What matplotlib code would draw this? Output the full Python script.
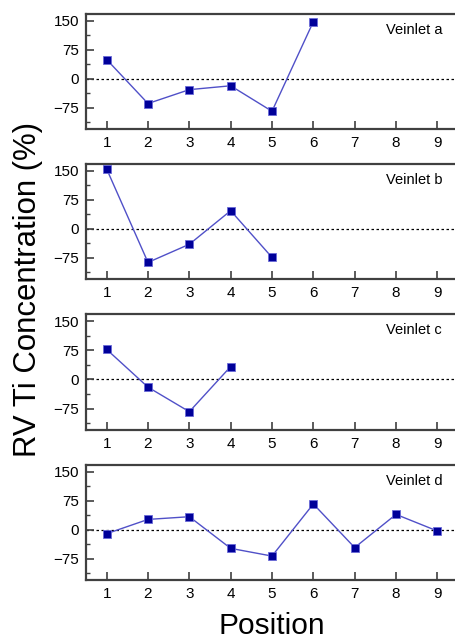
import numpy as np
import matplotlib
matplotlib.use('Agg')
from matplotlib import pyplot as plt
from matplotlib.ticker import MultipleLocator

plt.rcParams['font.family'] = ['Liberation Sans', 'DejaVu Sans']

# Dati
veinlets = ['Veinlet a', 'Veinlet b', 'Veinlet c', 'Veinlet d']
pos_a = [1, 2, 3, 4, 5, 6]
rv_a = [50, -64, -28, -18, -84, 148]
pos_b = [1, 2, 3, 4, 5]
rv_b = [155, -87, -40, 47, -74]
pos_c = [1, 2, 3, 4]
rv_c = [77, -20, -83, 33]
pos_d = [1, 2, 3, 4, 5, 6, 7, 8, 9]
rv_d = [-10, 27, 34, -48, -68, 67, -46, 40, -3]

positions = [pos_a, pos_b, pos_c, pos_d]
values = [rv_a, rv_b, rv_c, rv_d]
xticks = list(range(1, 10))
yticks = [-75, 0, 75, 150]

fig = plt.figure(figsize=(4.55, 6.42), dpi=100)

# posizioni dei pannelli in pixel (top, bottom)
panels = [(14, 129), (164, 279), (314, 430), (465, 580)]
left_px, right_px = 86, 458
W, H = 455, 642

for (top, bot), name, x, y in zip(panels, veinlets, positions, values):
    ax = fig.add_axes([left_px / W, 1 - bot / H, (right_px - left_px) / W, (bot - top) / H])
    ax.axhline(0, color='black', lw=0.9, ls=(0, (2, 2)), zorder=1)
    ax.plot(x, y, color='#5050c8', lw=1.0, marker='s', markersize=6,
            markerfacecolor='#000099', markeredgecolor='#6a6ad8', markeredgewidth=0.6, zorder=3)
    ax.set_xlim(0.5, 9.5)
    ax.set_ylim(-130, 168)
    ax.set_xticks(xticks)
    ax.set_yticks(yticks)
    ax.yaxis.set_minor_locator(MultipleLocator(37.5))
    ax.tick_params(which='major', direction='in', length=6, width=1.2, color='#404040',
                   labelsize=11, pad=5)
    ax.tick_params(which='minor', direction='in', length=3, width=1.0, color='#404040')
    ax.tick_params(axis='y', which='minor', left=True)
    for s in ax.spines.values():
        s.set_color('#404040')
        s.set_linewidth(1.6)
    ax.text(7.77, 127, name, fontsize=10.5, ha='left', va='center')

fig.text(28 / W, 1 - 290 / H, 'RV Ti Concentration (%)', rotation=90,
         fontsize=22.4, ha='center', va='center')
fig.text(272 / W, 2 / H, 'Position', fontsize=21.5, ha='center', va='bottom')

plt.savefig('out.png', dpi=100)
plt.close()
